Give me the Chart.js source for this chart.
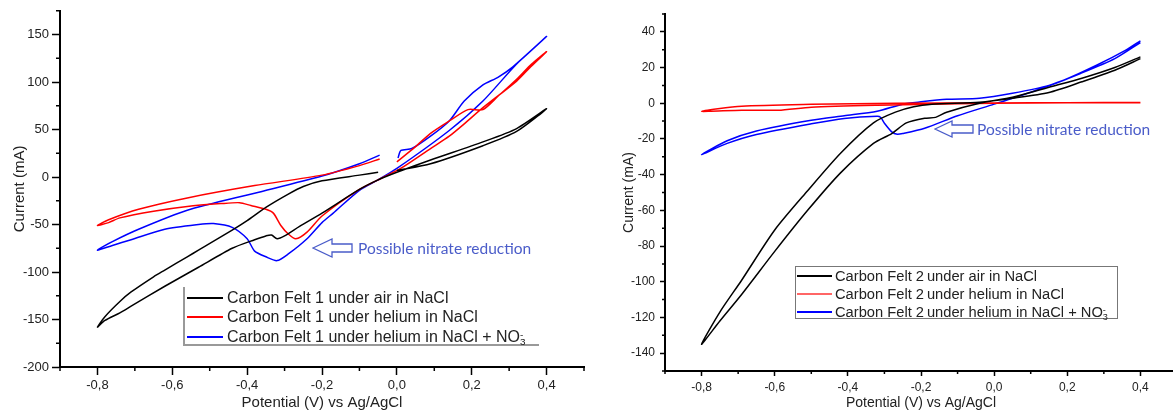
<!DOCTYPE html>
<html>
<head>
<meta charset="utf-8">
<script src="https://cdn.jsdelivr.net/npm/chart.js@4.4.1/dist/chart.umd.min.js"></script>
<style>
  html, body { margin: 0; padding: 0; background: #fff; }
  body { width: 1173px; height: 416px; overflow: hidden; position: relative; font-family: "Liberation Sans", Arial, sans-serif; color: #222; }
  .panel { position: absolute; top: 0; width: 600px; height: 416px; }
  .legend { position: absolute; background: #fff; }
  .legend .swatch { position: absolute; height: 0; border-top: 2px solid; }
  .legend .txt { position: absolute; line-height: 18px; white-space: nowrap; }
  .ion { display: inline-block; vertical-align: -0.3em; font-size: 0.62em; line-height: 0.75em; text-align: left; }
  .ion span { display: block; }
  .note { position: absolute; font-family: Lato, "Open Sans", sans-serif; color: #4a5cc9; white-space: nowrap; line-height: 18px; }
  .arrow { position: absolute; }
</style>
</head>
<body>
<div class="panel" style="left:0"><canvas id="chart1" width="600" height="416"></canvas></div>
<div class="panel" style="left:610px"><canvas id="chart2" width="600" height="416"></canvas></div>

<!-- Legende links -->
<div class="legend" style="left:183px; top:287px; width:354px; height:57px; border-left:2px solid #999; border-bottom:2px solid #999;">
  <div class="swatch" style="left:2px; width:36px; top:10px; border-color:#000"></div>
  <div class="txt" style="left:42px; top:2px; font-size:16px">Carbon Felt 1 under air in NaCl</div>
  <div class="swatch" style="left:2px; width:36px; top:29px; border-color:#f00"></div>
  <div class="txt" style="left:42px; top:21px; font-size:16px">Carbon Felt 1 under helium in NaCl</div>
  <div class="swatch" style="left:2px; width:36px; top:49px; border-color:#00f"></div>
  <div class="txt" style="left:42px; top:41px; font-size:16px">Carbon Felt 1 under helium in NaCl + NO<span class="ion"><span>-</span><span>3</span></span></div>
</div>

<!-- Legende rechts -->
<div class="legend" style="left:795px; top:266px; width:321px; height:51px; border:1px solid #777;">
  <div class="swatch" style="left:1px; width:35px; top:8px; border-color:#000"></div>
  <div class="txt" style="left:39px; top:0px; font-size:14.7px">Carbon Felt 2&thinsp;under air in NaCl</div>
  <div class="swatch" style="left:1px; width:35px; top:26px; border-color:#f66"></div>
  <div class="txt" style="left:39px; top:18px; font-size:14.7px">Carbon Felt 2&thinsp;under helium in NaCl</div>
  <div class="swatch" style="left:1px; width:35px; top:44px; border-color:#00f"></div>
  <div class="txt" style="left:39px; top:36px; font-size:14.7px">Carbon Felt 2&thinsp;under helium in NaCl + NO<span class="ion"><span>-</span><span>3</span></span></div>
</div>

<!-- Hinweise -->
<svg class="arrow" style="left:312px; top:238px" width="42" height="22">
  <polygon points="1,10 20,1 20,6 40,6 40,14 20,14 20,19" fill="#fff" stroke="#4a5cc9" stroke-width="1.3"/>
</svg>
<div class="note" style="left:358px; top:239px; font-size:15.5px">Possible nitrate reduction</div>
<svg class="arrow" style="left:934px; top:120px" width="42" height="20">
  <polygon points="1,9 18,1 18,5 39,5 39,13 18,13 18,17" fill="#fff" stroke="#4a5cc9" stroke-width="1.3"/>
</svg>
<div class="note" style="left:977px; top:120px; font-size:15.5px">Possible nitrate reduction</div>

<script>
// Achsenticks
const xMajor = [-0.8, -0.6, -0.4, -0.2, 0, 0.2, 0.4];
const xMinor = [-0.9, -0.7, -0.5, -0.3, -0.1, 0.1, 0.3, 0.5];
const leftYMajor = [-200, -150, -100, -50, 0, 50, 100, 150];
const leftYMinor = [-175, -125, -75, -25, 25, 75, 125, 175];
const rightYMajor = [-140, -120, -100, -80, -60, -40, -20, 0, 20, 40];
const rightYMinor = [-150, -130, -110, -90, -70, -50, -30, -10, 10, 30, 50];

// Carbon Felt 1 (links): Potential V, Strom mA
const felt1AirV = [-0.05, -0.1, -0.2, -0.25, -0.29, -0.35, -0.40, -0.44, -0.53, -0.56, -0.62, -0.65, -0.71, -0.74, -0.78, -0.80,
  -0.78, -0.74, -0.71, -0.62, -0.53, -0.44, -0.38, -0.35, -0.335, -0.32, -0.30, -0.26, -0.20, -0.10, -0.05, 0.00, 0.09, 0.23, 0.32, 0.40,
  0.32, 0.23, 0.09, 0.00];
const felt1AirI = [5, 2, -4, -10, -18, -32, -46, -56, -77, -84, -98, -105, -121, -131, -147, -158,
  -151, -143, -136, -115, -95, -75, -66, -62, -61, -65, -62, -52, -38, -13, -3, 5, 18, 37, 51, 72,
  48, 33, 14, 7];

const felt1HeV = [-0.046, -0.1, -0.2, -0.38, -0.56, -0.69, -0.77, -0.80,
  -0.77, -0.74, -0.65, -0.56, -0.47, -0.42, -0.39, -0.35, -0.33, -0.31, -0.29, -0.27, -0.24, -0.20, -0.10, -0.04, 0.01, 0.09, 0.14, 0.18, 0.23, 0.32, 0.36, 0.40,
  0.36, 0.32, 0.27, 0.23, 0.19, 0.14, 0.09, 0.05, 0.00];
const felt1HeI = [19, 12, 2, -9, -22, -34, -45, -51,
  -48, -43, -36, -31, -28, -27, -30, -34, -38, -51, -60, -65, -58, -41, -13, -1, 9, 30, 43, 56, 73, 101, 117, 132,
  119, 103, 85, 71, 71, 59, 46, 32, 16];

const felt1No3V = [-0.046, -0.1, -0.2, -0.38, -0.56, -0.69, -0.76, -0.80,
  -0.76, -0.71, -0.62, -0.53, -0.49, -0.44, -0.40, -0.38, -0.35, -0.32, -0.29, -0.24, -0.20, -0.17, -0.10, -0.05, 0.00, 0.14, 0.23, 0.32, 0.40,
  0.31, 0.27, 0.23, 0.18, 0.14, 0.09, 0.04, 0.011, 0.003];
const felt1No3I = [23, 14, 1, -17, -35, -55, -68, -77,
  -72, -66, -55, -50, -49, -53, -65, -78, -84, -88, -81, -65, -48, -38, -14, -3, 9, 49, 80, 119, 148,
  116, 105, 97, 80, 59, 43, 30, 28, 20];

// Carbon Felt 2 (rechts)
const felt2AirV = [0.40, 0.33, 0.24, 0.15, 0.05, -0.04, -0.17, -0.22, -0.27, -0.33, -0.42, -0.51, -0.60, -0.69, -0.75, -0.80,
  -0.75, -0.69, -0.60, -0.51, -0.42, -0.33, -0.28, -0.24, -0.19, -0.16, -0.13, -0.04, 0.05, 0.15, 0.24, 0.33, 0.40];
const felt2AirI = [25, 18.5, 12, 6, 2.8, 0.6, -0.6, -2, -5, -11, -28, -49, -71, -99, -117, -135,
  -122, -107, -83, -60, -39, -22.5, -17, -11, -8.4, -7.9, -5, 0, 3.4, 9, 14, 20, 26];

const felt2HeV = [0.40, 0.20, 0.00, -0.27, -0.50, -0.69, -0.80, -0.69, -0.59, -0.50, -0.32, -0.10, 0.00, 0.20, 0.40];
const felt2HeI = [0.3, 0.3, 0.2, 0, -0.6, -1.7, -4.5, -3.9, -3.9, -2.2, -1.1, -0.3, 0, 0.3, 0.4];

const felt2No3V = [0.40, 0.33, 0.24, 0.15, 0.05, -0.04, -0.13, -0.20, -0.25, -0.32, -0.41, -0.50, -0.65, -0.73, -0.80,
  -0.73, -0.65, -0.50, -0.41, -0.32, -0.31, -0.30, -0.28, -0.265, -0.25, -0.19, -0.10, 0.00, 0.10, 0.19, 0.28, 0.36, 0.40];
const felt2No3I = [34, 25, 17, 10, 5.6, 2.8, 2.2, 0.8, -0.5, -4.5, -7, -9.5, -15.5, -21, -28.7,
  -22.5, -17.5, -11.5, -8.5, -7.3, -8, -11.2, -16, -17.4, -17, -14, -7, -0.5, 6.2, 12.9, 21.3, 29.8, 35];

const FONT = 'Liberation Sans';

// Nebenticks selbst zeichnen (Chart.js kennt keine minor ticks)
const minorTicksPlugin = {
  id: 'minorTicks',
  afterDraw(chart, args, opts) {
    const ctx = chart.ctx;
    const xs = chart.scales.x, ys = chart.scales.y;
    ctx.save();
    ctx.strokeStyle = '#000';
    ctx.lineWidth = 1.5;
    ctx.beginPath();
    opts.x.forEach(v => {
      const px = xs.getPixelForValue(v);
      ctx.moveTo(px, xs.top);
      ctx.lineTo(px, xs.top + opts.len);
    });
    opts.y.forEach(v => {
      const py = ys.getPixelForValue(v);
      ctx.moveTo(ys.right, py);
      ctx.lineTo(ys.right - opts.len, py);
    });
    ctx.stroke();
    ctx.restore();
  }
};

function toPoints(vs, is) {
  return vs.map((v, i) => ({ x: v, y: is[i] }));
}

function createChart(id, cfg) {
  const ds = cfg.series.map(s => ({
    data: toPoints(s.v, s.i),
    borderColor: s.color,
    backgroundColor: s.color,
    showLine: true,
    pointRadius: 0,
    borderWidth: 1.5,
    tension: 0.25,
    fill: false
  }));
  return new Chart(document.getElementById(id), {
    type: 'scatter',
    data: { datasets: ds },
    options: {
      responsive: false,
      animation: false,
      devicePixelRatio: 1,
      layout: { padding: { top: cfg.top, right: cfg.right, left: 0, bottom: 0 } },
      plugins: {
        legend: { display: false },
        tooltip: { enabled: false },
        minorTicks: { x: xMinor, y: cfg.yMinor, len: cfg.minorLen }
      },
      scales: {
        x: {
          type: 'linear', min: -0.9, max: 0.5,
          afterBuildTicks: s => { s.ticks = xMajor.map(v => ({ value: v })); },
          afterFit: s => { s.height = cfg.xH; },
          ticks: {
            autoSkip: false, maxRotation: 0, padding: cfg.xPad,
            color: '#222', font: { family: FONT, size: cfg.tickSize },
            callback: v => v.toFixed(1).replace('.', ',')
          },
          grid: { drawOnChartArea: false, drawTicks: true, tickLength: cfg.tickLen, tickColor: '#000', tickWidth: 1.5 },
          border: { display: true, color: '#000', width: 2 },
          title: { display: true, text: 'Potential (V) vs Ag/AgCl', color: '#222',
            font: { family: FONT, size: cfg.titleSize }, padding: { top: 0, bottom: cfg.xTitlePad } }
        },
        y: {
          type: 'linear', min: cfg.yMin, max: cfg.yMax,
          afterBuildTicks: s => { s.ticks = cfg.yMajor.map(v => ({ value: v })); },
          afterFit: s => { s.width = cfg.yW; },
          ticks: {
            autoSkip: false, padding: cfg.yPad,
            color: '#222', font: { family: FONT, size: cfg.tickSize },
            callback: v => String(v)
          },
          grid: { drawOnChartArea: false, drawTicks: true, tickLength: cfg.tickLen, tickColor: '#000', tickWidth: 1.5 },
          border: { display: true, color: '#000', width: 2 },
          title: { display: true, text: 'Current (mA)', color: '#222',
            font: { family: FONT, size: cfg.titleSize }, padding: { top: cfg.yTitlePad, bottom: 0 } }
        }
      }
    },
    plugins: [minorTicksPlugin]
  });
}

createChart('chart1', {
  series: [
    { v: felt1AirV, i: felt1AirI, color: '#000000' },
    { v: felt1HeV, i: felt1HeI, color: '#ff0000' },
    { v: felt1No3V, i: felt1No3I, color: '#0000ff' }
  ],
  yMin: -200, yMax: 175, yMajor: leftYMajor, yMinor: leftYMinor,
  top: 6, right: 16, xH: 49, yW: 60,
  tickLen: 8, minorLen: 4, tickSize: 13, xPad: 3, yPad: 3,
  titleSize: 15, xTitlePad: 4, yTitlePad: 11
});

createChart('chart2', {
  series: [
    { v: felt2AirV, i: felt2AirI, color: '#000000' },
    { v: felt2HeV, i: felt2HeI, color: '#ff0000' },
    { v: felt2No3V, i: felt2No3I, color: '#0000ff' }
  ],
  yMin: -150, yMax: 50, yMajor: rightYMajor, yMinor: rightYMinor,
  top: 14, right: 33, xH: 45, yW: 55,
  tickLen: 5, minorLen: 3, tickSize: 12, xPad: 4, yPad: 5,
  titleSize: 14, xTitlePad: 4, yTitlePad: 11
});
</script>
</body>
</html>
